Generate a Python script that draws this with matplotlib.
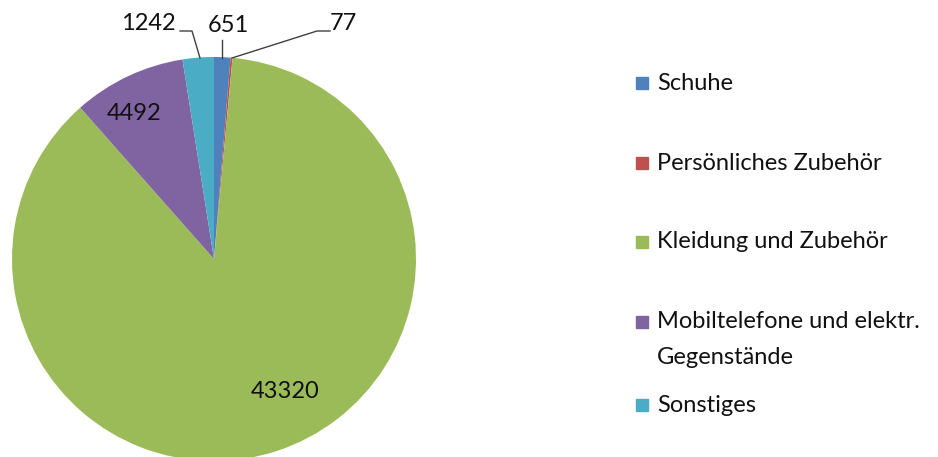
import matplotlib.pyplot as plt
from matplotlib.patches import Rectangle

categories = ["Schuhe", "Persönliches Zubehör", "Kleidung und Zubehör",
              "Mobiltelefone und elektr.\nGegenstände", "Sonstiges"]
values = [651, 77, 43320, 4492, 1242]
colors = ["#4F81BD", "#C0504D", "#9BBB59", "#8064A2", "#4BACC6"]

plt.rcParams['font.family'] = ['Lato', 'DejaVu Sans']
FS = 17

W, H = 938, 457
fig = plt.figure(figsize=(W / 100, H / 100), dpi=100)

# pie: centre (214, 259) px, radius 202 px
cx, cy, r = 214, 259, 202
ax = fig.add_axes([(cx - r) / W, (H - cy - r) / H, 2 * r / W, 2 * r / H])
wedges, _ = ax.pie(values, colors=colors, startangle=90, counterclock=False,
                   radius=1, wedgeprops=dict(linewidth=0))
ax.set_xlim(-1, 1)
ax.set_ylim(-1, 1)
ax.set_aspect('equal')
ax.axis('off')


def px(x, y):
    # pixel coords -> pie data coords
    return ((x - cx) / r, (cy - y) / r)


# inside labels
ax.text(*px(285, 391), str(values[2]), fontsize=FS, ha='center', va='center', color='#111111')
ax.text(*px(134, 114), str(values[3]), fontsize=FS, ha='center', va='center', color='#111111')

# outside labels with leader lines
lc = '#404040'
ax.text(*px(148, 24), str(values[4]), fontsize=FS, ha='center', va='center', color='#111111', clip_on=False)
ax.plot(*zip(px(180, 31), px(192, 31), px(200, 58)), color=lc, lw=1, clip_on=False)

ax.text(*px(228, 25), str(values[0]), fontsize=FS, ha='center', va='center', color='#111111', clip_on=False)
ax.plot(*zip(px(222, 40), px(222, 58)), color=lc, lw=1, clip_on=False)

ax.text(*px(330, 24), str(values[1]), fontsize=FS, ha='left', va='center', color='#111111', clip_on=False)
ax.plot(*zip(px(330, 31), px(317, 31), px(232, 58)), color=lc, lw=1, clip_on=False)

# legend drawn manually
rows = [83, 163, 242, 322, 405]
for lab, col, y in zip(categories, colors, rows):
    fig.patches.append(Rectangle((636 / W, (H - y - 6) / H), 12 / W, 12 / H,
                                 color=col, transform=fig.transFigure))
    for i, line in enumerate(lab.split('\n')):
        fig.text(657 / W, (H - y - 35 * i) / H, line, fontsize=FS, va='center',
                 ha='left', color='#111111')

fig.savefig("out.png", dpi=100)
